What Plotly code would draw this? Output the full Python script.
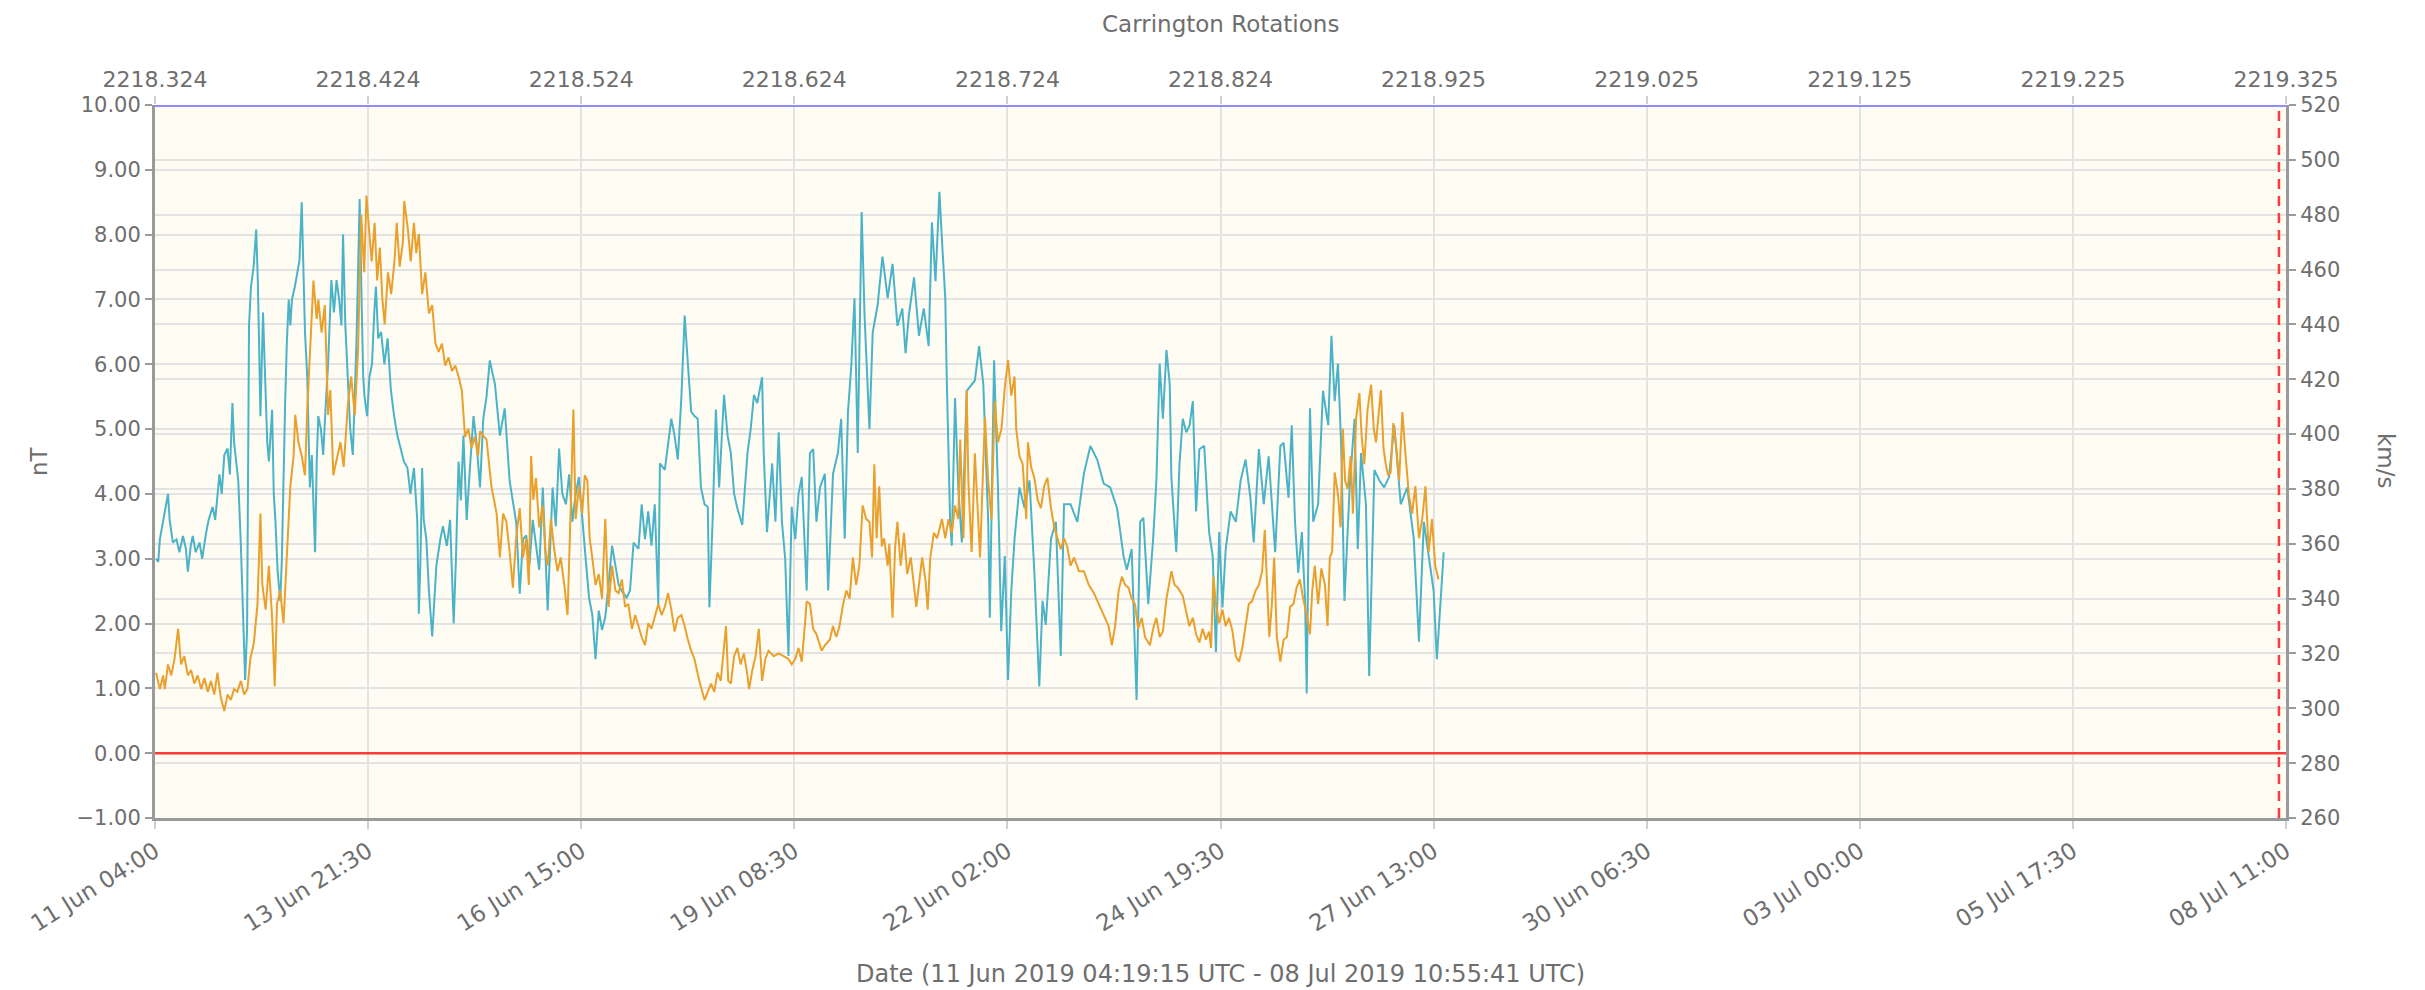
import pandas as pd
import plotly.graph_objects as go

# ---------------- data ----------------
START = "2019-06-11 04:00"

# IMF Bt (nT), left axis; hours after START
bt_hours = [0.32, 1.0, 1.5, 2.5, 4.0, 4.5, 5.5, 6.6, 7.5, 8.6, 9.5, 10.1, 11.0, 11.6, 12.5, 13.7, 14.5, 15.7, 16.5, 17.7,
            18.5, 19.8, 20.5, 21.3, 22.3, 23.0, 23.8, 24.3, 24.8, 25.6, 26.4, 27.0, 27.7, 28.3, 28.9, 29.5, 30.3, 31.1, 31.6, 32.0,
            32.4, 33.2, 33.9, 34.5, 35.0, 35.5, 36.0, 36.5, 37.0, 37.7, 38.5, 39.0, 39.5, 40.0, 40.5, 41.1, 41.6, 42.1, 43.0, 43.6,
            44.4, 45.1, 45.6, 46.1, 46.8, 47.6, 48.2, 49.2, 49.7, 50.2, 51.0, 51.7, 52.4, 53.2, 54.2, 55.0, 55.8, 56.6, 57.3, 57.8,
            58.5, 59.3, 60.0, 60.8, 61.4, 61.9, 62.4, 62.9, 63.5, 64.0, 64.4, 65.2, 65.9, 66.7, 67.4, 67.9, 68.6, 69.5, 70.5, 71.5,
            72.5, 73.5, 74.5, 75.5, 76.5, 77.6, 78.5, 79.6, 80.6, 81.1, 81.6, 82.1, 82.6, 83.4, 84.2, 85.2, 85.7, 86.5, 87.7, 88.5,
            89.7, 90.7, 91.8, 92.5, 93.3, 94.0, 94.8, 95.8, 96.8, 97.9, 98.8,
            99.9, 100.9, 101.9, 102.9, 103.9, 104.5, 106.0, 107.5, 109.0, 110.0, 111.0, 112.1, 113.1, 114.1, 115.1, 116.1, 117.1, 118.1,
            119.2, 120.7, 122.2, 123.2, 124.2, 125.2, 126.3, 127.3, 128.3, 129.3, 130.3, 131.3, 132.3, 133.4, 134.4, 135.4, 136.4, 137.4,
            138.4, 139.4, 140.5, 141.5, 142.5, 143.5, 145.0, 146.0, 147.1, 148.6, 149.6, 150.6, 151.6, 152.6, 153.6, 154.7, 155.2, 156.7,
            157.7, 158.7, 159.7, 160.7, 161.8, 162.8, 163.8, 164.8, 165.8, 166.8, 167.8, 168.9, 169.9, 170.4, 171.4, 172.4, 173.4, 174.9,
            176.0, 177.0, 178.0, 179.0, 180.5, 182.1, 183.1, 184.1, 185.1, 186.6, 187.1, 188.1, 189.7, 190.7, 191.7, 192.7, 193.7, 194.7,
            195.7, 196.8, 197.8, 198.8, 200.3, 201.3,
            202.3, 203.3, 204.4, 205.9, 206.9, 208.4, 209.9, 210.9, 212.0, 213.0, 214.0, 215.0, 216.0, 216.5, 217.2, 218.1, 219.1, 219.6,
            220.6, 222.1, 223.6, 225.2, 226.7, 228.2, 229.7, 230.7, 231.7, 233.3, 234.8, 236.3, 237.8, 238.8, 239.9, 241.1, 241.9, 242.9,
            243.4, 244.4, 244.9, 245.9, 246.9, 248.0, 249.5, 251.0, 252.0, 253.3, 254.6, 256.1, 256.6, 257.9, 259.1, 260.1, 261.2, 262.2,
            263.2, 264.2, 265.7, 267.3, 268.8, 270.3, 271.8, 272.8, 273.8, 275.4, 276.9, 278.4, 279.4, 281.4, 283.5, 285.5, 287.5, 289.6,
            291.6, 293.6, 295.7, 297.7, 298.7, 300.2, 301.7, 302.8,
            303.8, 305.3, 306.8, 307.8, 308.8, 309.8, 310.9, 311.9, 312.4, 313.9, 314.9, 315.9, 317.0, 318.0, 319.0, 320.0, 321.0, 322.5,
            324.0, 325.1, 326.1, 327.1, 328.1, 329.1, 330.6, 332.2, 333.7, 335.2, 336.7, 337.7, 339.3, 340.8, 342.3, 344.3, 345.9, 346.9,
            348.4, 349.4, 350.4, 351.4, 352.5, 353.5, 354.0, 355.0, 356.0, 357.5, 359.0, 360.6, 361.6, 362.6, 363.6, 364.6, 365.6, 367.2,
            368.7, 369.7, 370.7, 372.2, 373.2, 374.8, 376.3, 377.8, 379.3, 380.9, 382.9, 384.9, 386.9, 388.5, 390.0, 391.5, 393.0, 394.0,
            395.1, 396.1]
bt_nT = [3.0, 2.95, 3.3, 3.6, 4.0, 3.6, 3.25, 3.3, 3.1, 3.35, 3.15, 2.8, 3.2, 3.35, 3.1, 3.25, 3.0, 3.4, 3.6, 3.8,
         3.6, 4.3, 4.0, 4.6, 4.7, 4.3, 5.4, 4.8, 4.6, 4.2, 3.2, 2.2, 1.13, 1.9, 6.6, 7.2, 7.5, 8.08, 7.3, 6.3,
         5.2, 6.8, 5.8, 4.8, 4.5, 5.0, 5.3, 4.0, 3.6, 2.8, 2.35, 3.0, 4.5, 5.4, 6.3, 7.0, 6.6, 7.0, 7.2, 7.4,
         7.6, 8.5, 7.3, 6.5, 5.8, 4.1, 4.6, 3.1, 4.5, 5.2, 5.0, 4.6, 5.3, 6.0, 7.3, 6.8, 7.3, 7.0, 6.6, 8.0,
         6.6, 5.7, 5.0, 4.6, 5.5, 6.3, 7.4, 8.55, 7.0, 5.8, 5.5, 5.2, 5.8, 6.0, 6.8, 7.2, 6.4, 6.5, 6.0, 6.4,
         5.6, 5.2, 4.9, 4.7, 4.5, 4.4, 4.0, 4.4, 3.6, 2.15, 3.0, 4.4, 3.6, 3.3, 2.5, 1.8, 2.3, 2.9, 3.3, 3.5,
         3.2, 3.6, 2.0, 3.0, 4.5, 3.9, 4.9, 3.6, 4.4, 5.2, 4.8,
         4.1, 5.16, 5.5, 6.06, 5.8, 5.69, 4.9, 5.32, 4.2, 3.9, 3.57, 2.46, 3.3, 3.36, 2.9, 3.6, 3.2, 2.83,
         4.1, 2.2, 4.1, 3.5, 4.7, 4.0, 3.84, 4.3, 3.57, 4.0, 4.26, 3.6, 3.04, 2.4, 2.14, 1.45, 2.2, 1.9,
         2.1, 2.6, 3.2, 2.9, 2.6, 2.5, 2.4, 2.51, 3.25, 3.15, 3.84, 3.3, 3.73, 3.2, 3.84, 2.3, 4.47, 4.37,
         4.8, 5.16, 4.9, 4.53, 5.5, 6.75, 6.0, 5.27, 5.2, 5.16, 4.1, 3.84, 3.8, 2.25, 3.6, 5.3, 4.1, 5.53,
         4.9, 4.63, 4.0, 3.78, 3.52, 4.63, 5.0, 5.53, 5.4, 5.8, 4.63, 3.41, 4.47, 3.57, 4.95, 3.57, 3.0, 1.5,
         3.8, 3.3, 4.0, 4.26, 2.51, 4.63,
         4.69, 3.57, 4.1, 4.31, 2.51, 4.31, 4.63, 5.16, 3.31, 5.27, 5.96, 7.02, 4.63, 6.22, 8.35, 6.75, 5.69, 5.0,
         6.49, 6.91, 7.66, 7.02, 7.55, 6.59, 6.86, 6.17, 6.75, 7.34, 6.44, 6.86, 6.28, 8.19, 7.28, 8.66, 7.9, 7.02,
         5.69, 3.57, 3.2, 5.48, 4.1, 3.25, 5.59, 5.69, 5.75, 6.28, 5.69, 3.57, 2.09, 6.06, 4.1, 1.88, 3.04, 1.13,
         2.51, 3.31, 4.1, 3.78, 4.21, 2.78, 1.03, 2.35, 1.98, 3.31, 3.57, 1.5, 3.84, 3.84, 3.57, 4.31, 4.74, 4.53,
         4.16, 4.1, 3.78, 3.04, 2.83, 3.15, 0.82, 3.57,
         3.63, 2.30, 3.31, 4.21, 6.01, 5.16, 6.22, 5.69, 4.26, 3.10, 4.47, 5.16, 4.95, 5.06, 5.43, 3.73, 4.69, 4.74,
         3.41, 3.04, 1.56, 3.41, 2.25, 3.15, 3.73, 3.57, 4.21, 4.53, 3.94, 3.25, 4.69, 3.84, 4.58, 3.10, 4.74, 4.79,
         3.94, 5.06, 3.57, 2.78, 3.41, 2.35, 0.92, 5.32, 3.57, 3.84, 5.59, 5.06, 6.44, 5.43, 6.01, 4.74, 2.35, 4.10,
         5.16, 3.15, 4.63, 3.84, 1.19, 4.37, 4.21, 4.10, 4.26, 5.06, 3.84, 4.10, 3.31, 1.72, 3.57, 3.04, 2.51, 1.45,
         2.25, 3.10]

# Solar wind speed (km/s), right axis; hours after START
sw_hours = [0.32, 1.0, 1.5, 2.5, 3.0, 4.0, 5.0, 6.0, 7.1, 8.0, 9.0, 10.1, 11.1, 12.1, 13.1, 14.2, 15.2, 16.2, 17.2, 18.2,
            19.2, 20.2, 21.3, 22.3, 23.3, 24.3, 25.3, 26.4, 27.4, 28.4, 29.3, 30.4, 31.5, 32.4, 33.0, 34.0, 35.0, 36.0, 36.8, 37.5,
            38.5, 39.5, 40.1, 40.5, 41.6, 42.6, 43.1, 44.1, 45.1, 46.1, 46.8, 47.6, 48.7, 49.7, 50.2, 51.2, 52.2, 53.2, 53.9, 54.8,
            56.0, 57.0, 58.0, 59.3, 60.3, 61.4, 62.4, 63.4, 64.3, 65.0, 65.9, 66.6, 67.5, 68.3, 69.1, 69.9, 70.6, 71.6, 72.6, 73.6,
            74.3, 75.2, 76.2, 76.6, 77.7, 78.6, 79.6, 80.3, 81.1, 82.1, 83.1, 84.2, 85.2, 86.2, 87.2, 88.2, 89.2, 90.2, 91.3, 92.3,
            93.3, 94.3, 95.3, 96.3, 97.3, 98.3, 99.3,
            99.9, 101.9, 103.4, 105.0, 106.0, 107.0, 108.0, 109.0, 110.0, 111.0, 112.1, 113.1, 114.1, 114.9, 115.6, 116.3, 117.1, 118.1,
            119.2, 120.0, 120.7, 121.7, 122.7, 123.7, 124.7, 125.8, 126.8, 127.8, 128.6, 129.3, 130.3, 131.3, 132.1, 132.9, 133.6, 134.4,
            135.4, 136.4, 137.4, 138.4, 139.4, 140.5, 141.5, 142.5, 143.5, 144.5, 145.5, 146.6, 147.6, 148.6, 149.6, 150.6, 151.6, 152.6,
            153.6, 154.7, 155.7, 156.7, 157.7, 158.7, 159.7, 160.7, 161.8, 162.8, 163.8, 164.8, 165.8, 167.3, 168.9, 169.9, 170.9, 171.9,
            172.9, 173.9, 175.5, 176.2, 177.0, 178.0, 179.0, 180.0, 181.0, 182.1, 182.6, 183.6, 184.6, 185.6, 186.6, 187.6, 188.6, 190.2,
            191.7, 193.2, 194.7, 195.7, 196.8, 197.8, 198.8, 199.8, 200.3,
            201.3, 202.3, 203.3, 204.9, 205.9, 207.4, 208.4, 209.4, 210.4, 211.5, 212.5, 213.5, 214.5, 215.5, 216.5, 217.5, 218.6, 219.6,
            220.4, 221.1, 221.8, 222.6, 223.4, 224.1, 225.2, 225.7, 226.7, 227.5, 228.2, 229.2, 230.2, 231.2, 232.3, 233.3, 234.0, 234.8,
            235.8, 236.8, 237.5, 238.3, 239.4, 240.4, 241.9, 242.9, 243.9, 244.9, 245.9, 246.9, 247.5, 248.5, 249.5, 250.0, 251.0, 252.0,
            253.0, 253.6, 254.6, 255.1, 256.1, 257.1, 258.1, 259.1, 260.2, 261.2, 262.2, 263.2, 264.2, 264.7, 265.7, 266.7, 267.8, 268.3,
            269.3, 270.3, 271.3, 272.3, 273.3, 274.3, 275.4, 276.4, 277.4, 278.4, 279.4, 280.4, 281.4, 282.5, 284.0, 285.5, 287.0, 288.6,
            290.1, 291.6, 293.1, 294.1, 295.1, 296.2, 297.2, 298.2, 299.2, 300.2, 301.2, 302.2, 303.3, 304.3,
            305.8, 306.8, 307.8, 308.8, 309.8, 310.9, 312.4, 313.4, 314.4, 315.9, 316.9, 317.9, 319.0, 320.0, 321.0, 322.0, 323.0, 324.0,
            324.6, 325.3, 326.1, 327.1, 328.1, 329.1, 330.1, 331.2, 332.2, 333.2, 334.2, 335.2, 336.2, 337.2, 338.3, 339.3, 340.3, 341.1,
            341.8, 342.5, 343.3, 344.0, 344.8, 345.9, 346.9, 347.9, 348.9, 349.9, 350.9, 351.9, 352.9, 354.0, 355.0, 355.7, 356.5, 357.5,
            358.5, 359.6, 360.4, 361.1, 361.8, 362.6, 363.6, 364.4, 365.1, 365.8, 366.6, 367.5, 368.2, 369.2, 370.2, 370.9, 371.7, 372.7,
            373.8, 374.6, 375.3, 376.0, 376.8, 377.6, 378.3, 379.0, 379.8, 380.6, 381.4, 382.4, 383.4, 384.4, 385.4, 386.4, 387.4, 388.5,
            389.5, 390.5, 391.5, 392.5, 393.5, 394.5]
sw_kms = [313, 310, 307, 312, 307, 316, 312, 318, 329, 316, 319, 312, 314, 309, 312, 307, 311, 306, 310, 305,
          313, 304, 299, 305, 303, 307, 306, 310, 305, 307, 318, 324, 338, 371, 345, 336, 352, 333, 308, 338,
          343, 331, 343, 355, 381, 392, 407, 397, 392, 385, 409, 430, 456, 442, 449, 437, 447, 407, 416, 385,
          392, 397, 388, 411, 421, 407, 430, 480, 459, 487, 473, 463, 477, 456, 468, 449, 440, 459, 451, 463,
          477, 461, 470, 485, 475, 463, 477, 466, 473, 451, 459, 444, 447, 433, 430, 433, 425, 428, 423, 425,
          421, 416, 399, 402, 395, 399, 392,
          401, 398, 381, 371, 355, 371, 368, 357, 344, 362, 373, 355, 362, 345, 392, 376, 384, 366,
          374, 357, 352, 369, 358, 350, 355, 345, 334, 374, 409, 369, 381, 371, 385, 383, 362, 355,
          345, 349, 340, 369, 337, 352, 343, 342, 347, 337, 338, 329, 334, 330, 326, 323, 331, 329,
          333, 338, 334, 337, 342, 336, 328, 333, 334, 330, 325, 321, 318, 310, 303, 306, 309, 306,
          313, 310, 330, 310, 309, 319, 322, 316, 320, 312, 307, 314, 319, 329, 310, 318, 321, 319,
          320, 319, 318, 316, 318, 322, 317, 331, 339,
          338, 329, 327, 321, 323, 325, 330, 326, 330, 338, 343, 340, 355, 345, 352, 374, 369, 368,
          355, 389, 362, 381, 359, 362, 352, 360, 333, 359, 368, 352, 364, 349, 355, 343, 337, 345,
          355, 347, 336, 355, 364, 362, 369, 362, 369, 364, 374, 369, 398, 362, 416, 383, 357, 393,
          366, 355, 390, 406, 383, 369, 412, 397, 402, 417, 427, 414, 421, 402, 392, 389, 369, 397,
          388, 384, 376, 373, 381, 384, 373, 366, 362, 358, 362, 359, 352, 355, 350, 350, 345, 342,
          338, 334, 330, 323, 330, 343, 348, 345, 344, 340, 338, 329, 333, 326,
          323, 329, 333, 326, 328, 340, 350, 345, 344, 341, 336, 330, 333, 327, 324, 329, 325, 328,
          322, 348, 338, 331, 336, 330, 333, 328, 319, 317, 322, 330, 338, 339, 343, 345, 350, 365,
          343, 326, 338, 355, 326, 317, 325, 326, 337, 338, 344, 347, 340, 334, 327, 343, 352, 338,
          351, 345, 330, 355, 357, 386, 378, 366, 402, 383, 380, 392, 371, 406, 415, 399, 389, 409,
          418, 402, 397, 407, 416, 395, 389, 385, 386, 404, 397, 383, 408, 392, 378, 371, 381, 362,
          369, 381, 357, 369, 352, 347]

# axis ticks and texts
date_tick_labels = ["11 Jun 04:00", "13 Jun 21:30", "16 Jun 15:00", "19 Jun 08:30", "22 Jun 02:00",
                    "24 Jun 19:30", "27 Jun 13:00", "30 Jun 06:30", "03 Jul 00:00", "05 Jul 17:30", "08 Jul 11:00"]
tick_step_hours = 65.5
carrington_labels = ["2218.324", "2218.424", "2218.524", "2218.624", "2218.724", "2218.824",
                     "2218.925", "2219.025", "2219.125", "2219.225", "2219.325"]
now_marker = "2019-07-08 08:50"
x_title = "Date (11 Jun 2019 04:19:15 UTC - 08 Jul 2019 10:55:41 UTC)"
top_title = "Carrington Rotations"

# ---------------- build ----------------
t0 = pd.Timestamp(START)
bt_t = t0 + pd.to_timedelta(bt_hours, unit="h")
sw_t = t0 + pd.to_timedelta(sw_hours, unit="h")
tickvals = [t0 + pd.Timedelta(hours=tick_step_hours * i) for i in range(len(date_tick_labels))]
x_range = [tickvals[0], tickvals[-1]]

FONT = "DejaVu Sans"
TXT = "#6e6e6e"
GRID = "#e3e3e3"
AXIS = "#9a9a9a"
OFF = 8  # page body margin offset
W, H = 2425 - OFF, 990 - OFF
L, T = 155 - OFF, 105 - OFF
R, B = 139, 172
PW, PH = W - L - R, H - T - B


def px_x(xabs):
    return (xabs - OFF - L) / PW


def px_y(yabs):
    return (T + PH - (yabs - OFF)) / PH


fig = go.Figure()
fig.add_trace(go.Scatter(x=bt_t, y=bt_nT, mode="lines", name="Bt", xaxis="x", yaxis="y",
                         line=dict(color="#4bb3c7", width=2)))
fig.add_trace(go.Scatter(x=sw_t, y=sw_kms, mode="lines", name="Speed", xaxis="x2", yaxis="y2",
                         line=dict(color="#e9a02c", width=2)))

tickfont = dict(family=FONT, size=21, color=TXT)
xtickfont = dict(family=FONT, size=22, color=TXT)
fig.update_layout(
    width=W, height=H,
    margin=dict(l=L, r=R, t=T, b=B, autoexpand=False),
    paper_bgcolor="white", plot_bgcolor="#fffcf4",
    showlegend=False,
    xaxis=dict(type="date", range=x_range, tickvals=tickvals, ticktext=date_tick_labels,
               tickangle=-32, tickfont=dict(family=FONT, size=23, color=TXT), showgrid=True,
               gridcolor=GRID, gridwidth=2,
               showline=True, linecolor=AXIS, linewidth=3, ticks="outside", ticklen=8,
               tickcolor="#cfcfcf", tickwidth=2, zeroline=False, automargin=False),
    xaxis2=dict(type="date", range=x_range, tickvals=tickvals, ticktext=carrington_labels,
                overlaying="x", side="top", anchor="y2", tickfont=xtickfont, showgrid=False,
                ticks="outside", ticklen=8, tickcolor="#cfcfcf", tickwidth=2, showline=False,
                zeroline=False, automargin=False),
    yaxis=dict(range=[-1, 10], dtick=1, tick0=0, tickformat=".2f", tickfont=tickfont,
               showgrid=True, gridcolor=GRID, gridwidth=2, zeroline=False,
               showline=True, linecolor=AXIS, linewidth=3, ticks="outside", ticklen=7,
               tickcolor=AXIS, tickwidth=2, automargin=False),
    yaxis2=dict(range=[260, 520], dtick=20, tick0=260, overlaying="y", side="right", anchor="x2",
                tickfont=tickfont, showgrid=True, gridcolor=GRID, gridwidth=2, zeroline=False,
                showline=True, linecolor=AXIS, linewidth=3, ticks="outside", ticklen=7,
                tickcolor=AXIS, tickwidth=2, automargin=False),
)

# horizontal reference lines and "now" marker
fig.add_shape(type="line", xref="paper", yref="y", x0=0, x1=1, y0=10, y1=10,
              line=dict(color="#8e8cff", width=4), layer="above")
fig.add_shape(type="line", xref="paper", yref="y", x0=0, x1=1, y0=0, y1=0,
              line=dict(color="#ff3b3b", width=2.5), layer="above")
fig.add_shape(type="line", xref="x", yref="paper", x0=now_marker, x1=now_marker, y0=0, y1=1,
              line=dict(color="#ff3a3a", width=2.5, dash="10px,7px"), layer="above")

# titles (positions given in page pixels)
title_font = dict(family=FONT, size=23, color=TXT)
fig.add_annotation(text=x_title, xref="paper", yref="paper", x=px_x(1220), y=px_y(974),
                   showarrow=False, xanchor="center", yanchor="middle", font=dict(family=FONT, size=24, color=TXT))
fig.add_annotation(text=top_title, xref="paper", yref="paper", x=px_x(1220), y=px_y(24),
                   showarrow=False, xanchor="center", yanchor="middle", font=title_font)
fig.add_annotation(text="nT", xref="paper", yref="paper", x=px_x(39), y=px_y(461),
                   showarrow=False, xanchor="center", yanchor="middle", textangle=-90, font=title_font)
fig.add_annotation(text="km/s", xref="paper", yref="paper", x=px_x(2386), y=px_y(461),
                   showarrow=False, xanchor="center", yanchor="middle", textangle=90, font=title_font)

fig.write_html("out.html")
